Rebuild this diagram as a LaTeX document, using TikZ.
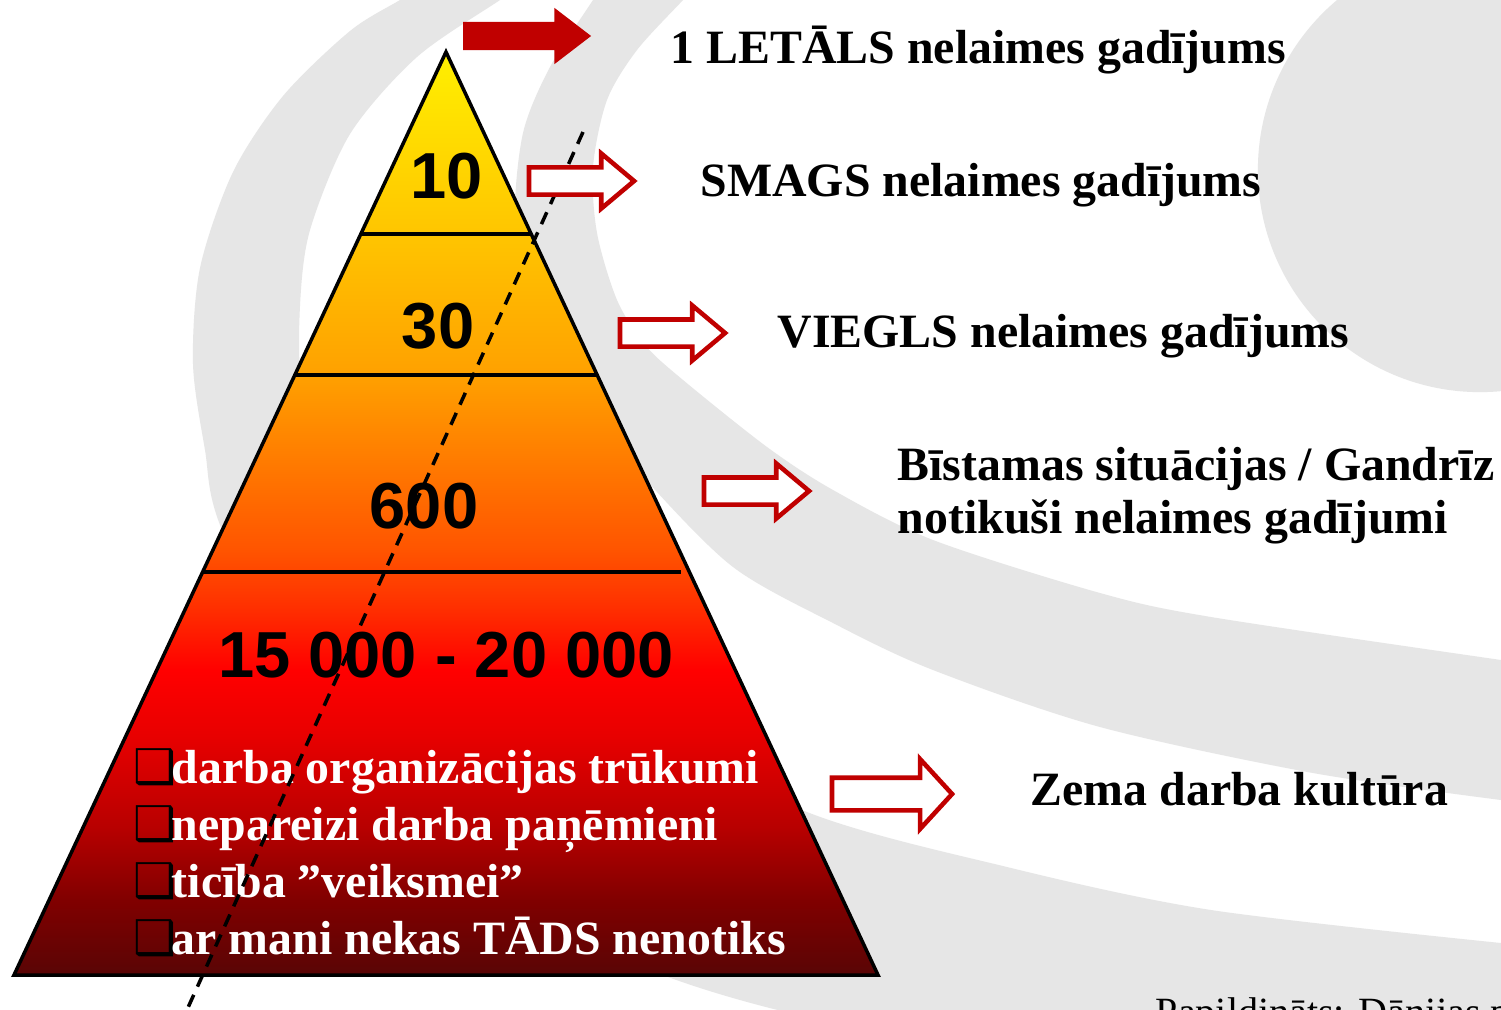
\documentclass[tikz,border=0pt]{standalone}
\usepackage{fontspec}
\setmainfont{Liberation Serif}
\newfontfamily\numfont{Liberation Sans}
\newfontfamily\symfont{DejaVu Sans}
\usetikzlibrary{shapes.arrows, positioning}

\definecolor{bggrey}{RGB}{230,230,230}
\definecolor{arrowred}{RGB}{192,0,0}

\pgfdeclareverticalshading{pyramidshade}{100bp}{%
  rgb(0bp)=(.35,.02,.02); rgb(25bp)=(.35,.02,.02);
  rgb(29bp)=(.50,0,0); rgb(33bp)=(.72,0,0); rgb(38bp)=(.91,0,0);
  rgb(41.5bp)=(1,0,0); rgb(45bp)=(1,.19,0); rgb(48bp)=(1,.33,0);
  rgb(53.4bp)=(1,.5,0); rgb(57.5bp)=(1,.63,0); rgb(65bp)=(1,.77,0);
  rgb(75bp)=(1,.94,0); rgb(100bp)=(1,.94,0)}

\newcommand{\boxbullet}{{\symfont\color{black}❑}\kern-0.1em}

\begin{document}
\begin{tikzpicture}[x=0.01cm, y=-0.01cm,
  label/.style = {font=\fontsize{13.6}{15}\selectfont\bfseries, anchor=base west, inner sep=0pt},
  cause/.style = {label, text=white},
  number/.style = {font=\numfont\fontsize{18.5}{20}\selectfont\bfseries, anchor=base, inner sep=0pt},
  outarrow/.style = {single arrow, draw=arrowred, fill=white, line width=1.3pt, anchor=tail,
    inner xsep=0pt, inner ysep=0.1125cm, outer sep=0pt, single arrow head extend=0.14cm,
    single arrow tip angle=80, minimum height=1.05cm},
  tierline/.style = {line width=0.9pt},
  dashline/.style = {line width=1pt, dash pattern=on 0.13cm off 0.09cm}]
  \useasboundingbox (0,0) rectangle (1501,1009);
  \fill[white] (0,0) rectangle (1501,1009);

  % watermark swirl
  \begin{scope}
    \clip (0,0) rectangle (1501,1009);
    \fill[bggrey] (1480,170) circle [radius=2.22cm];
    \fill[bggrey] plot[smooth] coordinates {(701,-20) (683,0) (637,50) (607,100) (593,167) (597,233)
        (617,300) (645,345) (683,380) (767,447) (833,490) (933,540) (1100,593) (1211,617) (1501,660) (1540,665)}
      -- (1540,805) -- plot[smooth] coordinates {(1501,800) (1313,773) (1100,727) (933,670) (833,623)
        (733,567) (646,480) (580,400) (530,300) (515,220) (523,133) (550,67) (593,0) (606,-20)} -- cycle;
    \fill[bggrey] plot[smooth] coordinates {(433,-20) (400,0) (350,31) (283,96) (233,172) (200,268)
        (193,364) (205,450) (220,525) (300,700) (450,860) (650,970) (870,1030) (1200,1070) (1540,1080)}
      -- (1540,946) -- plot[smooth] coordinates {(1501,943) (1211,910) (1007,867) (802,810) (600,700)
        (420,540) (330,420) (302,383) (300,306) (310,230) (350,134) (417,57) (500,0) (529,-20)} -- cycle;
    \node[font=\fontsize{11.4}{13}\selectfont, anchor=base west, inner sep=0pt] (source) at (1155,1025)
      {Papildināts: Dānijas pieredze};
  \end{scope}

  % pyramid
  \coordinate (apex) at (446,52);
  \coordinate (bl) at (14,975);
  \coordinate (br) at (878,975);
  \shade[shading=pyramidshade] (apex) -- (br) -- (bl) -- cycle;
  \draw[tierline] (361,234) -- (531,234);
  \draw[tierline] (295,375) -- (597,375);
  \draw[tierline] (203,572) -- (681,572);
  \draw[line width=1pt] (apex) -- (br) -- (bl) -- cycle;

  \node[number] (n10) at (447,198) {10};
  \node[number] (n30) at (438,348) {30};
  \node[number] (n600) at (424,528) {600};
  \node[number] (n15000) at (446,677) {15 000 - 20 000};

  \node[cause] (cause1) at (133,783) {\boxbullet darba organizācijas trūkumi};
  \node[cause] (cause2) at (133,840) {\boxbullet nepareizi darba paņēmieni};
  \node[cause] (cause3) at (133,897) {\boxbullet ticība ”veiksmei”};
  \node[cause] (cause4) at (133,954) {\boxbullet ar mani nekas TĀDS nenotiks};

  \coordinate (dtop) at (583,132);
  \coordinate (dbot) at (186,1012);
  \draw[dashline] (dtop) -- (dbot);

  % arrows
  \node[single arrow, fill=arrowred, anchor=tail, inner xsep=0pt, inner ysep=0.135cm, outer sep=0pt,
    single arrow head extend=0.14cm, single arrow tip angle=75, minimum height=1.28cm] (a1) at (463,36) {};
  \node[outarrow] (a2) at (529,181) {};
  \node[outarrow] (a3) at (620,333) {};
  \node[outarrow] (a4) at (704,491) {};
  \node[outarrow, minimum height=1.2cm, inner ysep=0.14cm, single arrow head extend=0.185cm,
    single arrow tip angle=95] (a5) at (832,794) {};

  % labels
  \node[label] (letals) at (670,64) {1 LETĀLS nelaimes gadījums};
  \node[label] (smags) at (700,196) {SMAGS nelaimes gadījums};
  \node[label] (viegls) at (777,347) {VIEGLS nelaimes gadījums};
  \node[label] (bistamas) at (897,480) {Bīstamas situācijas / Gandrīz};
  \node[label] (notikusi) at (897,533) {notikuši nelaimes gadījumi};
  \node[label] (zema) at (1030,805) {Zema darba kultūra};
\end{tikzpicture}
\end{document}
